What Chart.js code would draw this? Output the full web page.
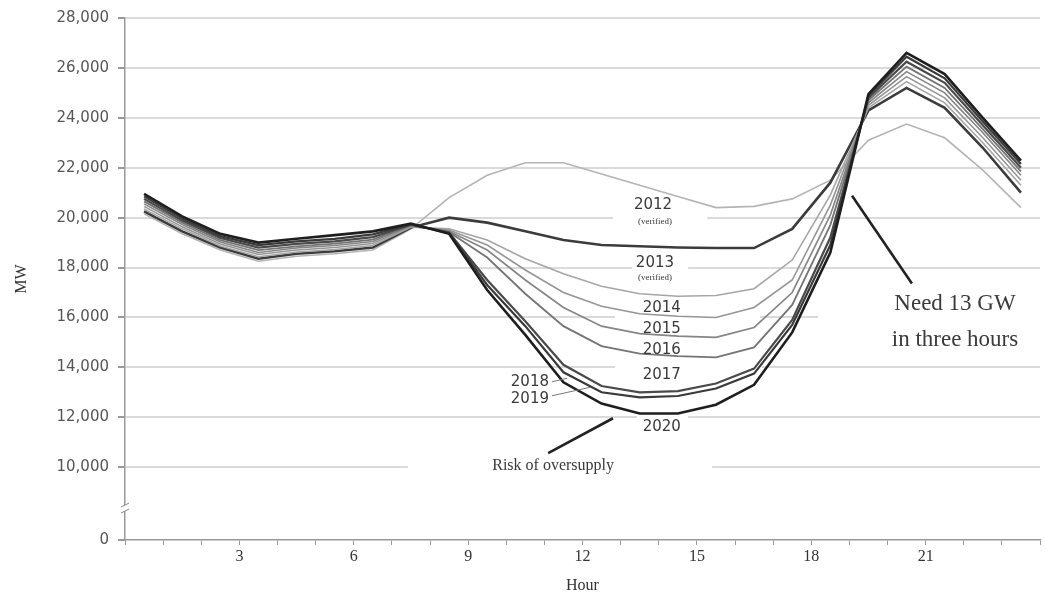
<!DOCTYPE html>
<html>
<head>
<meta charset="utf-8">
<script src="https://cdn.jsdelivr.net/npm/chart.js@4.4.1/dist/chart.umd.min.js"></script>
<style>
  body { margin: 0; background: #fff; }
  #wrap { width: 1045px; height: 595px; position: relative; }
</style>
</head>
<body>
<div id="wrap"><canvas id="duck"></canvas></div>
<script>
/* ---------- data (MW) ---------- */
const hours = [0.5, 1.5, 2.5, 3.5, 4.5, 5.5, 6.5, 7.5, 8.5, 9.5, 10.5, 11.5,
               12.5, 13.5, 14.5, 15.5, 16.5, 17.5, 18.5, 19.5, 20.5, 21.5, 22.5, 23.5];

const load2012 = [20150, 19350, 18700, 18250, 18450, 18550, 18700, 19550, 20800, 21700, 22200, 22200,
                  21750, 21300, 20850, 20400, 20450, 20750, 21500, 23100, 23750, 23200, 21900, 20400];
const load2013 = [20250, 19450, 18800, 18350, 18550, 18650, 18800, 19600, 20000, 19800, 19450, 19100,
                  18900, 18850, 18800, 18780, 18780, 19550, 21400, 24300, 25200, 24400, 22800, 21000];
const load2014 = [20350, 19550, 18860, 18430, 18620, 18720, 18880, 19620, 19550, 19100, 18350, 17750,
                  17250, 16950, 16850, 16880, 17150, 18300, 20900, 24400, 25450, 24600, 23000, 21300];
const load2015 = [20450, 19630, 18940, 18520, 18700, 18800, 18960, 19650, 19500, 18900, 17900, 17000,
                  16450, 16150, 16050, 16000, 16400, 17500, 20500, 24500, 25650, 24800, 23200, 21500];
const load2016 = [20550, 19720, 19020, 18600, 18780, 18880, 19040, 19670, 19450, 18700, 17500, 16400,
                  15650, 15350, 15250, 15200, 15600, 17000, 20100, 24600, 25850, 25000, 23400, 21700];
const load2017 = [20650, 19800, 19100, 18700, 18850, 18960, 19120, 19700, 19420, 18400, 16950, 15650,
                  14850, 14550, 14450, 14400, 14800, 16500, 19700, 24700, 26050, 25200, 23550, 21850];
const load2018 = [20750, 19880, 19180, 18800, 18950, 19050, 19220, 19720, 19400, 17500, 15850, 14100,
                  13250, 13000, 13050, 13350, 13950, 15900, 19200, 24800, 26250, 25400, 23700, 22000];
const load2019 = [20850, 19960, 19260, 18900, 19050, 19150, 19330, 19740, 19380, 17300, 15650, 13800,
                  13000, 12800, 12850, 13150, 13750, 15700, 18900, 24880, 26450, 25580, 23850, 22150];
const load2020 = [20950, 20050, 19350, 19000, 19150, 19300, 19450, 19760, 19350, 17100, 15300, 13400,
                  12550, 12150, 12150, 12500, 13300, 15400, 18600, 24950, 26600, 25750, 24000, 22280];

const yearNames = ['2012', '2013', '2014', '2015', '2016', '2017', '2018', '2019', '2020'];
const yearLoads = [load2012, load2013, load2014, load2015, load2016, load2017, load2018, load2019, load2020];

/* ---------- axes ---------- */
// the value axis is broken: the bottom tick stands for 0
const AXIS_BOTTOM = 7080;
const yTickValues = [AXIS_BOTTOM, 10000, 12000, 14000, 16000, 18000, 20000, 22000, 24000, 26000, 28000];
const yTickLabels = ['0', '10,000', '12,000', '14,000', '16,000', '18,000', '20,000', '22,000', '24,000', '26,000', '28,000'];
const xTickHours = [0, 1, 2, 3, 4, 5, 6, 7, 8, 9, 10, 11, 12, 13, 14, 15, 16, 17, 18, 19, 20, 21, 22, 23, 24];
const xLabelHours = [3, 6, 9, 12, 15, 18, 21];

/* ---------- styling ---------- */
const lineColors = ['#b4b4b4', '#3c3c3c', '#a6a6a6', '#969696', '#858585', '#747474', '#4a4a4a', '#3a3a3a', '#1e1e1e'];
const lineWidths = [1.6, 2.6, 1.6, 1.6, 1.6, 1.8, 2.2, 2.2, 2.6];
const SERIF = '"Liberation Serif", "DejaVu Serif", serif';
const SANS = '"DejaVu Sans", sans-serif';

/* =========================
   ANNOTATIONS
========================= */
// [text, hour, MW, font]
const yearLabels = [
  ['2012', 13.85, 20520, '15px ' + SANS],
  ['(verified)', 13.9, 19840, '9px ' + SERIF],
  ['2013', 13.9, 18160, '15px ' + SANS],
  ['(verified)', 13.9, 17600, '9px ' + SERIF],
  ['2014', 14.08, 16360, '15px ' + SANS],
  ['2015', 14.08, 15520, '15px ' + SANS],
  ['2016', 14.08, 14680, '15px ' + SANS],
  ['2017', 14.08, 13680, '15px ' + SANS],
  ['2018', 10.62, 13400, '15px ' + SANS],
  ['2019', 10.62, 12720, '15px ' + SANS],
  ['2020', 14.08, 11600, '15px ' + SANS],
  ['Risk of oversupply', 11.23, 10040, '16px ' + SERIF],
  ['Need 13 GW', 21.77, 16560, '23px ' + SERIF],
  ['in three hours', 21.77, 15080, '23px ' + SERIF]
];
// [h1, mw1, h2, mw2, width]
const leaders = [
  [11.2, 13420, 11.6, 13560, 1],
  [11.2, 12860, 12.2, 13200, 1],
  [11.1, 10560, 12.8, 11960, 2.6],
  [19.07, 20880, 20.64, 17360, 2.6]
];
// gridline gaps behind the labels: [MW, hour from, hour to]
const gridGaps = [
  [20000, 12.8, 15.27],
  [18000, 13.3, 14.77],
  [16000, 12.85, 16.66],
  [16000, 18.18, 24],
  [14000, 12.85, 16.7],
  [12000, 13.43, 14.77],
  [10000, 7.42, 15.4]
];

const annotate = {
  id: 'annotate',
  beforeDatasetsDraw(chart) {
    const { ctx, scales: { x, y } } = chart;
    ctx.save();
    ctx.fillStyle = '#fff';
    gridGaps.forEach(([mw, h1, h2]) => {
      const py = y.getPixelForValue(mw);
      ctx.fillRect(x.getPixelForValue(h1), py - 2, x.getPixelForValue(h2) - x.getPixelForValue(h1), 4);
    });
    ctx.restore();
  },
  afterDatasetsDraw(chart) {
    const { ctx, scales: { x, y } } = chart;
    ctx.save();
    leaders.forEach(([h1, m1, h2, m2, w]) => {
      ctx.lineWidth = w;
      ctx.strokeStyle = w > 2 ? '#222' : '#777';
      ctx.beginPath();
      ctx.moveTo(x.getPixelForValue(h1), y.getPixelForValue(m1));
      ctx.lineTo(x.getPixelForValue(h2), y.getPixelForValue(m2));
      ctx.stroke();
    });
    ctx.textAlign = 'center';
    ctx.textBaseline = 'middle';
    yearLabels.forEach(([txt, h, mw, font]) => {
      ctx.font = font;
      ctx.fillStyle = '#3a3a3a';
      ctx.fillText(txt, x.getPixelForValue(h), y.getPixelForValue(mw));
    });
    // axis break mark on the value axis
    const bx = x.left;
    const by = y.getPixelForValue(8360);
    ctx.fillStyle = '#fff';
    ctx.fillRect(bx - 3, by - 3, 6, 6);
    ctx.strokeStyle = '#888';
    ctx.lineWidth = 1;
    [-3, 3].forEach(d => {
      ctx.beginPath();
      ctx.moveTo(bx - 4, by + d + 2);
      ctx.lineTo(bx + 4, by + d - 2);
      ctx.stroke();
    });
    ctx.restore();
  }
};

/* =========================
   CHART
========================= */
const datasets = yearNames.map((name, i) => ({
  label: name,
  data: hours.map((h, k) => ({ x: h, y: yearLoads[i][k] })),
  borderColor: lineColors[i],
  borderWidth: lineWidths[i],
  pointRadius: 0,
  tension: 0,
  fill: false
}));
// darker years drawn last
datasets.reverse();

new Chart(document.getElementById('duck'), {
  type: 'line',
  data: { datasets },
  plugins: [annotate],
  options: {
    responsive: true,
    maintainAspectRatio: false,
    animation: false,
    layout: { padding: { top: 17, right: 5, left: 0, bottom: 0 } },
    plugins: { legend: { display: false }, tooltip: { enabled: false } },
    scales: {
      x: {
        type: 'linear',
        min: 0,
        max: 24,
        afterBuildTicks: (scale) => { scale.ticks = xTickHours.map(v => ({ value: v })); },
        afterFit: (scale) => { scale.height = 55; },
        ticks: {
          autoSkip: false,
          maxRotation: 0,
          padding: 2,
          color: '#333',
          font: { family: SERIF, size: 16 },
          callback: (v) => xLabelHours.includes(v) ? String(v) : ''
        },
        grid: { drawOnChartArea: false, color: '#999', tickLength: 5 },
        border: { color: '#999', width: 1.5 },
        title: { display: true, text: 'Hour', color: '#333', font: { family: SERIF, size: 16 }, padding: { top: 2, bottom: 0 } }
      },
      y: {
        min: AXIS_BOTTOM,
        max: 28000,
        afterBuildTicks: (scale) => { scale.ticks = yTickValues.map(v => ({ value: v })); },
        afterFit: (scale) => { scale.width = 125; },
        ticks: {
          autoSkip: false,
          padding: 9,
          color: '#555',
          font: { family: SANS, size: 15 },
          callback: (v, i) => yTickLabels[i]
        },
        grid: {
          color: (c) => c.index === 0 ? 'rgba(0,0,0,0)' : '#dadada',
          tickColor: '#999',
          lineWidth: 2,
          tickLength: 7
        },
        border: { color: '#999', width: 1.5 },
        title: { display: true, text: 'MW', color: '#333', font: { family: SERIF, size: 16 }, padding: { top: 12, bottom: 0 } }
      }
    }
  }
});
</script>
</body>
</html>
